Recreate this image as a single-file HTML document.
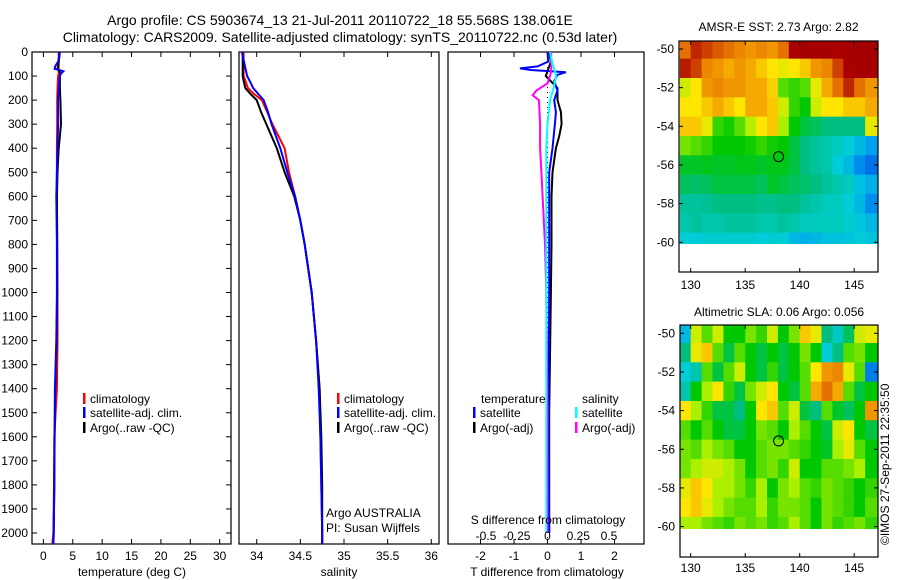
<!DOCTYPE html>
<html><head><meta charset="utf-8"><style>
html,body{margin:0;padding:0;background:#fff;}
svg{display:block;font-family:"Liberation Sans",sans-serif;}
</style></head><body>
<svg id="fig" width="900" height="580" viewBox="0 0 900 580" xmlns="http://www.w3.org/2000/svg">
<defs>
<clipPath id="c1"><rect x="32" y="52" width="199" height="492"/></clipPath>
<clipPath id="c2"><rect x="239" y="52" width="200" height="492"/></clipPath>
<clipPath id="c3"><rect x="448" y="52" width="196" height="492"/></clipPath>
<clipPath id="m1"><rect x="679" y="41" width="199" height="203"/></clipPath>
<clipPath id="m2"><rect x="680" y="325" width="198" height="204"/></clipPath>
</defs>
<text x="340" y="25" font-size="14" text-anchor="middle">Argo profile: CS 5903674_13 21-Jul-2011 20110722_18 55.568S 138.061E</text>
<text x="340" y="42" font-size="14" text-anchor="middle">Climatology: CARS2009. Satellite-adjusted climatology: synTS_20110722.nc (0.53d later)</text>
<g id="g1"></g>
<g id="g2"></g>
<g id="g3"></g>
<g id="gm1"></g>
<g id="gm2"></g>
<text transform="translate(889,545) rotate(-90)" font-size="12">©IMOS 27-Sep-2011 22:35:50</text>
</svg>
<script>
// ---- profile data ----
const tDepths=[0,20,40,60,70,80,90,100,150,200,300,400,500,600,800,1000,1200,1400,1600,1800,2000,2050];
const tClim=[2.6,2.6,2.6,2.6,2.6,2.6,2.6,2.5,2.4,2.35,2.35,2.3,2.3,2.3,2.35,2.4,2.4,2.3,1.85,1.8,1.7,1.5];
const tSat=[2.8,2.7,2.5,2.0,1.9,3.4,3.0,2.8,2.6,2.5,2.5,2.4,2.3,2.2,2.3,2.3,2.2,1.95,1.9,1.85,1.75,1.7];
const tArgo=[2.7,2.7,2.6,2.5,2.4,2.7,2.9,2.8,2.8,2.9,3.0,2.6,2.4,2.3,2.35,2.35,2.25,2.0,1.9,1.85,1.75,1.7];
const sDepths=[0,50,100,120,150,175,200,250,300,400,500,600,700,800,1000,1200,1400,1600,1800,2000,2050];
const sClim=[33.85,33.85,33.85,33.87,33.9,33.97,34.06,34.12,34.18,34.32,34.37,34.44,34.5,34.55,34.63,34.68,34.72,34.73,34.74,34.75,34.75];
const sSat=[33.83,33.86,33.89,33.92,33.96,34.02,34.08,34.13,34.17,34.27,34.35,34.44,34.5,34.55,34.63,34.68,34.71,34.73,34.74,34.75,34.75];
const sArgo=[33.84,33.84,33.84,33.85,33.87,33.93,34.0,34.05,34.11,34.23,34.32,34.43,34.5,34.55,34.63,34.68,34.72,34.74,34.75,34.75,34.75];
const dtSatDepths=[0,40,60,68,75,84,95,120,160,200,250,300,400,500,600,800,1000,1500,2000];
const dtSat=[0,0.02,-0.3,-0.82,-0.5,0.55,0.3,0.2,0.3,0.2,0.25,0.22,0.15,0.05,0.05,0.05,0.05,0.03,0.05];
const dtArgoDepths=[0,40,60,80,100,150,200,250,300,350,400,500,600,800,1000,1500,2000];
const dtArgo=[0.05,0.1,0.05,0.0,-0.05,0.3,0.3,0.4,0.42,0.35,0.25,0.15,0.12,0.12,0.1,0.05,0.05];
const dsSatDepths=[0,50,80,100,150,200,300,400,600,1000,2000];
const dsSat=[0.02,0.04,0.06,0.07,0.05,0.02,0.0,-0.01,-0.01,-0.01,-0.01];
const dsArgoDepths=[0,50,80,100,130,160,180,200,300,400,500,600,800,1000,1500,2000];
const dsArgo=[0.03,0.03,0.03,0.02,0.0,-0.09,-0.12,-0.07,-0.06,-0.06,-0.05,-0.04,-0.02,-0.01,0.0,0.0];
const depthTicks=[0,100,200,300,400,500,600,700,800,900,1000,1100,1200,1300,1400,1500,1600,1700,1800,1900,2000];
const tTicks=[0,5,10,15,20,25,30];
const sTicks=[34,34.5,35,35.5,36];
const sTickLabels=["34","34.5","35","35.5","36"];
const dtTicks=[-2,-1,0,1,2];
const dsTicks=[-0.5,-0.25,0,0.25,0.5];
const dsTickLabels=["-0.5","-0.25","0","0.25","0.5"];
// ---- map data (1-degree cells, lon 129..146, lat -50..-60) ----
const mapLons=[129,130,131,132,133,134,135,136,137,138,139,140,141,142,143,144,145,146];
const mapLats=[-50,-51,-52,-53,-54,-55,-56,-57,-58,-59,-60];
const sstGrid=[
[0.85,0.92,0.9,0.88,0.85,0.82,0.8,0.82,0.8,0.85,0.95,0.97,0.97,0.97,0.95,0.97,0.98,0.98],
[0.93,0.9,0.82,0.8,0.78,0.8,0.78,0.75,0.72,0.7,0.72,0.75,0.8,0.82,0.9,0.95,0.97,0.97],
[0.68,0.72,0.8,0.82,0.8,0.8,0.78,0.78,0.74,0.6,0.58,0.6,0.7,0.78,0.85,0.92,0.85,0.8],
[0.72,0.72,0.75,0.78,0.75,0.72,0.78,0.78,0.75,0.68,0.58,0.55,0.68,0.72,0.72,0.75,0.75,0.78],
[0.75,0.75,0.7,0.58,0.56,0.6,0.66,0.72,0.75,0.65,0.55,0.5,0.48,0.45,0.45,0.45,0.45,0.7],
[0.62,0.6,0.58,0.55,0.55,0.55,0.56,0.58,0.56,0.55,0.5,0.45,0.42,0.4,0.38,0.35,0.3,0.25],
[0.52,0.52,0.53,0.52,0.52,0.53,0.53,0.52,0.53,0.53,0.5,0.45,0.42,0.4,0.35,0.3,0.22,0.18],
[0.48,0.47,0.48,0.5,0.5,0.5,0.5,0.48,0.52,0.5,0.48,0.47,0.45,0.42,0.4,0.38,0.32,0.28],
[0.42,0.42,0.43,0.45,0.45,0.45,0.45,0.44,0.44,0.45,0.45,0.42,0.4,0.38,0.38,0.35,0.3,0.22],
[0.4,0.42,0.4,0.4,0.42,0.42,0.42,0.4,0.4,0.42,0.4,0.38,0.38,0.38,0.38,0.36,0.33,0.3],
[0.35,0.35,0.36,0.36,0.36,0.36,0.36,0.35,0.36,0.35,0.3,0.28,0.3,0.32,0.32,0.33,0.35,0.33]];
const slaGrid=[
[0.3,0.68,0.6,0.68,0.55,0.55,0.62,0.58,0.68,0.55,0.62,0.75,0.7,0.45,0.38,0.48,0.68,0.7],
[0.45,0.7,0.75,0.6,0.5,0.6,0.55,0.5,0.55,0.5,0.55,0.62,0.55,0.35,0.45,0.6,0.62,0.55],
[0.35,0.4,0.6,0.5,0.6,0.68,0.55,0.5,0.58,0.5,0.55,0.6,0.72,0.8,0.82,0.7,0.6,0.2],
[0.4,0.55,0.65,0.72,0.58,0.5,0.62,0.68,0.72,0.55,0.5,0.6,0.78,0.85,0.78,0.6,0.5,0.55],
[0.72,0.65,0.58,0.5,0.5,0.45,0.55,0.72,0.75,0.6,0.68,0.5,0.45,0.6,0.52,0.48,0.55,0.8],
[0.6,0.55,0.6,0.55,0.5,0.5,0.55,0.62,0.6,0.55,0.65,0.6,0.55,0.5,0.68,0.72,0.55,0.5],
[0.62,0.6,0.65,0.62,0.6,0.55,0.55,0.6,0.62,0.62,0.6,0.58,0.55,0.52,0.65,0.7,0.6,0.55],
[0.62,0.65,0.68,0.68,0.65,0.62,0.55,0.6,0.62,0.58,0.68,0.55,0.55,0.6,0.6,0.62,0.65,0.55],
[0.7,0.75,0.72,0.65,0.65,0.62,0.58,0.65,0.55,0.62,0.65,0.6,0.58,0.62,0.6,0.58,0.55,0.58],
[0.72,0.75,0.7,0.65,0.62,0.6,0.6,0.65,0.58,0.62,0.62,0.6,0.55,0.62,0.6,0.58,0.55,0.6],
[0.65,0.65,0.62,0.6,0.58,0.62,0.6,0.62,0.58,0.6,0.65,0.6,0.55,0.62,0.58,0.6,0.62,0.58]];
const mapLonTicks=[130,135,140,145];
const mapLatTicks=[-50,-52,-54,-56,-58,-60];
const argoPos=[138.061,-55.568];

const NS="http://www.w3.org/2000/svg";
function mk(parent,tag,attrs,text){const e=document.createElementNS(NS,tag);for(const k in attrs)e.setAttribute(k,attrs[k]);if(text!==undefined)e.textContent=text;parent.appendChild(e);return e;}
const yD=d=>52+d*0.2405;
const xT=t=>43.4+5.876*t;
const xS=s=>256.7+87.3*(s-34);
const xDT=v=>547.5+33.5*v;
const xDS=v=>547.5+123*v;

function line(g,depths,vals,xf,color,clip,name){
  const pts=depths.map((d,i)=>xf(vals[i]).toFixed(1)+","+yD(d).toFixed(1)).join(" ");
  const p=mk(g,"polyline",{points:pts,fill:"none",stroke:color,"stroke-width":"2","clip-path":"url(#"+clip+")"});
  
  
}
function frame(g,x0,x1,name){
  const r=mk(g,"rect",{x:x0,y:52,width:x1-x0,height:492,fill:"none",stroke:"#000","stroke-width":"1.2"});
  
  
}
function xticks(g,ticks,labels,xf,yLab,top,bottom){
  ticks.forEach((t,i)=>{const x=xf(t);
    if(top)mk(g,"line",{x1:x,x2:x,y1:52,y2:57,stroke:"#000"});
    if(bottom)mk(g,"line",{x1:x,x2:x,y1:544,y2:539,stroke:"#000"});
    const tx=mk(g,"text",{x:x,y:yLab,"font-size":"12","text-anchor":"middle"},labels[i]);
    
    
  });
}
function legendEntry(g,x,y,color,label){
  mk(g,"rect",{x:x,y:y-10,width:2.5,height:11,fill:color});
  const t=mk(g,"text",{x:x+7,y:y,"font-size":"12"},label);
  
  
}
// Panel 1
const g1=document.getElementById("g1");
frame(g1,32,231,"temperature-axes");
depthTicks.forEach(d=>{const y=yD(d);
  mk(g1,"line",{x1:32,x2:37,y1:y,y2:y,stroke:"#000"});
  mk(g1,"line",{x1:231,x2:226,y1:y,y2:y,stroke:"#000"});
  const t=mk(g1,"text",{x:28,y:y+4,"font-size":"12","text-anchor":"end"},String(d));
  
  
});
xticks(g1,tTicks,tTicks.map(String),xT,560,true,true);
line(g1,tDepths,tClim,xT,"#f00","c1","temp-climatology-line");
line(g1,tDepths,tArgo,xT,"#000","c1","temp-argo-line");
line(g1,tDepths,tSat,xT,"#00f","c1","temp-satellite-line");
legendEntry(g1,83,403,"#f00","climatology");
legendEntry(g1,83,417,"#00f","satellite-adj. clim.");
legendEntry(g1,83,432,"#000","Argo(..raw -QC)");
mk(g1,"text",{x:132,y:576,"font-size":"12","text-anchor":"middle",},"temperature (deg C)");
// Panel 2
const g2=document.getElementById("g2");
frame(g2,239,439,"salinity-axes");
xticks(g2,sTicks,sTickLabels,xS,560,true,true);
line(g2,sDepths,sClim,xS,"#f00","c2","sal-climatology-line");
line(g2,sDepths,sArgo,xS,"#000","c2","sal-argo-line");
line(g2,sDepths,sSat,xS,"#00f","c2","sal-satellite-line");
legendEntry(g2,337,403,"#f00","climatology");
legendEntry(g2,337,417,"#00f","satellite-adj. clim.");
legendEntry(g2,337,432,"#000","Argo(..raw -QC)");
mk(g2,"text",{x:326,y:517,"font-size":"12",},"Argo AUSTRALIA");
mk(g2,"text",{x:326,y:532,"font-size":"12",},"PI: Susan Wijffels");
mk(g2,"text",{x:339,y:576,"font-size":"12","text-anchor":"middle",},"salinity");
// Panel 3
const g3=document.getElementById("g3");
frame(g3,448,644,"difference-axes");
xticks(g3,dtTicks,dtTicks.map(String),xDT,560,true,true);
mk(g3,"line",{x1:xDT(0),x2:xDT(0),y1:52,y2:544,stroke:"#000","stroke-dasharray":"1,4",});
line(g3,dtArgoDepths,dtArgo,xDT,"#000","c3","dt-argo-line");
line(g3,dtSatDepths,dtSat,xDT,"#00f","c3","dt-satellite-line");
line(g3,dsArgoDepths,dsArgo,xDS,"#f0f","c3","ds-argo-line");
line(g3,dsSatDepths,dsSat,xDS,"#0ff","c3","ds-satellite-line");
dsTicks.forEach((t,i)=>{const tx=mk(g3,"text",{x:xDS(t),y:540,"font-size":"12","text-anchor":"middle"},dsTickLabels[i]);
  
  });
mk(g3,"text",{x:548,y:524,"font-size":"12","text-anchor":"middle",},"S difference from climatology");
mk(g3,"text",{x:481,y:403,"font-size":"12",},"temperature");
mk(g3,"text",{x:582,y:403,"font-size":"12",},"salinity");
legendEntry(g3,473,417,"#00f","satellite");
legendEntry(g3,473,432,"#000","Argo(-adj)");
legendEntry(g3,575,417,"#0ff","satellite");
legendEntry(g3,575,432,"#f0f","Argo(-adj)");
mk(g3,"text",{x:547,y:576,"font-size":"12","text-anchor":"middle",},"T difference from climatology");
// Maps
const stops=[[0.1,[0,60,220]],[0.25,[0,160,240]],[0.35,[0,205,215]],[0.45,[0,190,130]],[0.55,[0,200,0]],[0.65,[170,240,0]],[0.72,[255,230,0]],[0.8,[240,150,0]],[0.88,[220,90,0]],[0.95,[170,0,0]],[1,[160,0,0]]];
function cmap(v){if(v<=stops[0][0])return "rgb("+stops[0][1]+")";
  for(let i=1;i<stops.length;i++){if(v<=stops[i][0]){const a=stops[i-1],b=stops[i],f=(v-a[0])/(b[0]-a[0]);
    return "rgb("+a[1].map((c,k)=>Math.round(c+(b[1][k]-c)*f)).join(",")+")";}}
  return "rgb("+stops[stops.length-1][1]+")";}
function drawMap(id,grid,x0,x1,yTop,yBot,lat50y,clip,title,titleY,labY,name){
  const g=document.getElementById(id);
  const xL=lon=>690.7+(lon-130)*10.9;
  const yL=lat=>lat50y+(-50-lat)*19.33;
  mk(g,"text",{x:(x0+x1)/2,y:titleY,"font-size":"12","text-anchor":"middle",},title);
  mapLats.forEach((lat,r)=>{mapLons.forEach((lon,c)=>{
    const xa=xL(lon),xb=c===mapLons.length-1?x1:xL(lon+1);
    const cell=mk(g,"rect",{x:xa.toFixed(2),y:yL(lat+0.5).toFixed(2),width:(xb-xa+0.4).toFixed(2),height:"19.8",fill:cmap(grid[r][c]),"clip-path":"url(#"+clip+")"});
    
    
  });});
  const fr=mk(g,"rect",{x:x0,y:yTop,width:x1-x0,height:yBot-yTop,fill:"none",stroke:"#000","stroke-width":"1.2"});
  
  
  mapLonTicks.forEach(l=>{const x=xL(l);
    mk(g,"line",{x1:x,x2:x,y1:yTop,y2:yTop+4,stroke:"#000"});
    mk(g,"line",{x1:x,x2:x,y1:yBot,y2:yBot-4,stroke:"#000"});
    const t=mk(g,"text",{x:x,y:labY,"font-size":"12","text-anchor":"middle"},String(l));
    
    });
  mapLatTicks.forEach(l=>{const y=yL(l);
    mk(g,"line",{x1:x0,x2:x0+4,y1:y,y2:y,stroke:"#000"});
    mk(g,"line",{x1:x1,x2:x1-4,y1:y,y2:y,stroke:"#000"});
    const t=mk(g,"text",{x:x0-5,y:y+4,"font-size":"12","text-anchor":"end"},String(l));
    
    });
  const c=mk(g,"circle",{cx:xL(argoPos[0]),cy:yL(argoPos[1]),r:5,fill:"none",stroke:"#000","stroke-width":"1"});
  
  
}
drawMap("gm1",sstGrid,679,878,41,272,49,"m1","AMSR-E SST: 2.73 Argo: 2.82",31,289,"sst-map");
drawMap("gm2",slaGrid,680,878,325,557,333.3,"m2","Altimetric SLA: 0.06 Argo: 0.056",316,572,"sla-map");
</script>
</body></html>
